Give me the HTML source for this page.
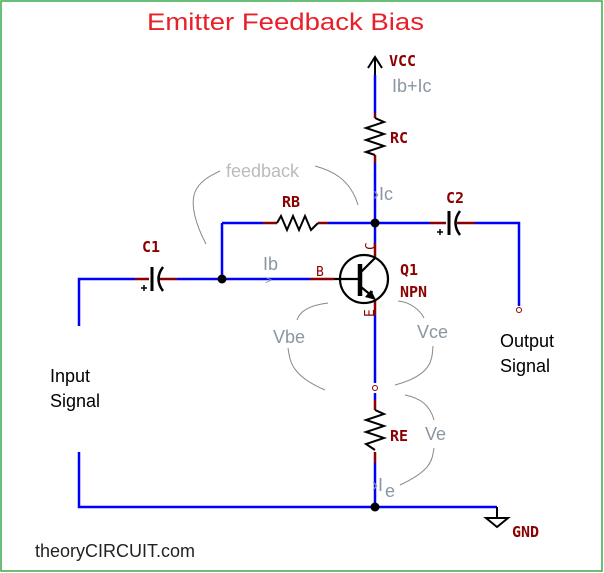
<!DOCTYPE html>
<html><head><style>html,body{margin:0;padding:0;background:#fff}svg{display:block}</style></head>
<body>
<svg width="604" height="573" viewBox="0 0 604 573" xmlns="http://www.w3.org/2000/svg" font-family="Liberation Sans, sans-serif">
<rect x="1" y="1" width="601" height="570" fill="#fff" stroke="#3aa84a" stroke-width="1.5"/>
<text x="147" y="30" font-size="24" fill="#e8202a" textLength="277" lengthAdjust="spacingAndGlyphs">Emitter Feedback Bias</text>
<g fill="none" stroke-width="2.5" stroke-linecap="butt">
<path d="M375 75V113 M375 163V223 M375 223V243 M222 223H263 M328 223H375 M375 223H430 M475 223H519V306 M79 326V279H135 M177 279H310 M222 279V223 M375 315V383 M375 393V400 M375 463V507 M79 452V507H497" stroke="#0000ff"/>
<path d="M375 113V118 M375 155V163 M263 223H277 M318 223H328 M430 223H446 M457 223H475 M135 279H149 M159 279H177 M310 279H334 M375 243V258 M375 300V315 M375 400V410 M375 452V463" stroke="#8b0000"/>
</g>
<path d="M375 75V57 M368 68L375 57L382 68" fill="none" stroke="#000" stroke-width="2"/>
<g fill="none" stroke="#000" stroke-width="2" stroke-linejoin="miter">
<path d="M375 118L384 122L366 128L384 134L366 140L384 146L366 152L375 155"/>
<path d="M277 223L281 216L287 230L293 216L299 230L305 216L311 230L318 223"/>
<path d="M375 410L384 414L366 420L384 426L366 432L384 438L366 444L375 450"/>
</g>
<g stroke="#000" fill="none">
<path d="M449 211V235" stroke-width="3"/>
<path d="M460 211Q451 223 460 235" stroke-width="2.5"/>
<path d="M152 267V291" stroke-width="3"/>
<path d="M163 267Q154 279 163 291" stroke-width="2.5"/>
<path d="M437 232H443 M440 229V235 M141 288H147 M144 285V291" stroke-width="1.5"/>
</g>
<circle cx="364" cy="279" r="24" fill="none" stroke="#000" stroke-width="2.2"/>
<path d="M334 279H358" stroke="#000" stroke-width="2.2"/>
<path d="M360 264V296" stroke="#000" stroke-width="4.5"/>
<path d="M361 272L375 258 M361 287L372 296" stroke="#000" stroke-width="2.2" fill="none"/>
<path d="M376 300L365 297L371 290Z" fill="#000"/>
<circle cx="372" cy="292" r="1" fill="#000"/>
<circle cx="375" cy="223" r="4.5" fill="#000"/>
<circle cx="222" cy="279" r="4.5" fill="#000"/>
<circle cx="375" cy="507" r="4.5" fill="#000"/>
<circle cx="375" cy="388" r="2.5" fill="#fff" stroke="#8b0000" stroke-width="1"/>
<circle cx="519" cy="310" r="2.5" fill="#fff" stroke="#8b0000" stroke-width="1"/>
<path d="M497 507V518 M486 518H508L497 527Z" fill="none" stroke="#000" stroke-width="2"/>
<g fill="none" stroke="#888" stroke-width="1">
<path d="M206 244C196 225 190 205 195 192C200 180 212 175 220 171"/>
<path d="M315 166C330 170 350 178 358 205"/>
<path d="M328 303C312 305 300 310 297 320"/>
<path d="M288 348C290 360 290 375 325 390"/>
<path d="M398 301C410 302 420 310 424 318"/>
<path d="M433 346C432 360 432 375 395 385"/>
<path d="M405 395C420 398 430 405 434 420"/>
<path d="M434 448C432 460 432 470 400 485"/>
</g>
<g font-family="DejaVu Sans Mono, monospace" font-weight="bold" fill="#8b0000" font-size="15">
<text x="389" y="66">VCC</text>
<text x="390" y="143">RC</text>
<text x="282" y="207">RB</text>
<text x="446" y="203">C2</text>
<text x="142" y="252">C1</text>
<text x="400" y="275">Q1</text>
<text x="400" y="297">NPN</text>
<text x="390" y="441">RE</text>
<text x="512" y="537">GND</text>
<text x="316" y="276" font-weight="normal" font-size="13">B</text>
<text x="375" y="250" font-weight="normal" font-size="13" transform="rotate(-90 375 250)">C</text>
<text x="374" y="317" font-weight="normal" font-size="13" transform="rotate(-90 374 317)">E</text>
</g>
<g fill="#8a96a3" font-family="Liberation Sans, sans-serif" font-size="18">
<text x="392" y="92">Ib+Ic</text>
<text x="226" y="177" fill="#bbb">feedback</text>
<text x="373" y="200">›Ic</text>
<text x="263" y="270">Ib</text>
<text x="265" y="284" font-size="12">&gt;</text>
<text x="273" y="343">Vbe</text>
<text x="417" y="338">Vce</text>
<text x="425" y="440">Ve</text>
<text x="372" y="491">›I</text>
<text x="385" y="497">e</text>
</g>
<g fill="#000" font-family="Liberation Sans, sans-serif" font-size="18">
<text x="50" y="382">Input</text>
<text x="50" y="407">Signal</text>
<text x="500" y="347">Output</text>
<text x="500" y="372">Signal</text>
<text x="35" y="557" fill="#222">theoryCIRCUIT.com</text>
</g>
</svg>
</body></html>
